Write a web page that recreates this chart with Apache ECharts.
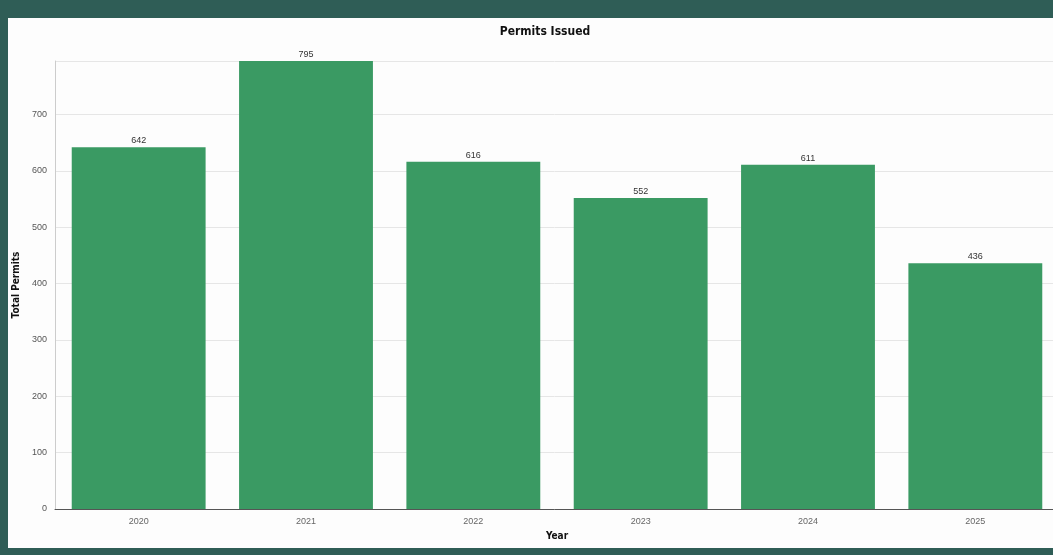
<!DOCTYPE html>
<html>
<head>
<meta charset="utf-8">
<script src="https://cdn.jsdelivr.net/npm/echarts@6/dist/echarts.min.js"></script>
<style>
  html, body { margin: 0; padding: 0; background: #2f5d56; width: 1053px; height: 555px; overflow: hidden; }
  #card { position: absolute; left: 8px; top: 18px; width: 1045px; height: 530px; background: #fdfdfd; }
</style>
</head>
<body>
<div id="card"></div>
<script>
// permits per year
const years = ['2020', '2021', '2022', '2023', '2024', '2025'];
const permits = [642, 795, 616, 552, 611, 436];
const yTicks = [0, 100, 200, 300, 400, 500, 600, 700];

const chart = echarts.init(document.getElementById('card'));
const option = {
  animation: false,
  title: {
    text: 'Permits Issued',
    left: 532,
    top: 3,
    textAlign: 'center',
    textStyle: { fontFamily: 'DejaVu Sans Condensed', fontWeight: 'bold', fontSize: 12, color: '#111' }
  },
  grid: { left: 47, right: -6, top: 43, bottom: 39, containLabel: false, outerBoundsMode: 'none' },
  xAxis: {
    type: 'category',
    data: years,
    name: 'Year',
    nameLocation: 'middle',
    nameGap: 22,
    nameTextStyle: { fontFamily: 'DejaVu Sans Condensed', fontWeight: 'bold', fontSize: 10, color: '#111' },
    axisLine: { lineStyle: { color: '#555', width: 1 } },
    axisTick: { show: false },
    axisLabel: { color: '#666', fontSize: 9, margin: 8 }
  },
  yAxis: {
    type: 'value',
    min: 0,
    max: 'dataMax',
    interval: 100,
    name: 'Total Permits',
    nameLocation: 'middle',
    nameGap: 32,
    nameTextStyle: { fontFamily: 'DejaVu Sans Condensed', fontWeight: 'bold', fontSize: 10, color: '#111' },
    axisLine: { show: true, lineStyle: { color: '#ccc' } },
    axisTick: { show: false },
    axisLabel: {
      color: '#555', fontSize: 9, margin: 8,
      formatter: v => (yTicks.indexOf(v) >= 0 ? String(v) : '')
    },
    splitLine: { lineStyle: { color: '#e6e6e6' } }
  },
  series: [{
    type: 'bar',
    data: permits,
    barCategoryGap: '20%',
    itemStyle: { color: '#3a9a63' },
    label: { show: true, position: 'top', distance: 2, color: '#333', fontSize: 9 }
  }]
};
chart.setOption(option);
</script>
</body>
</html>
